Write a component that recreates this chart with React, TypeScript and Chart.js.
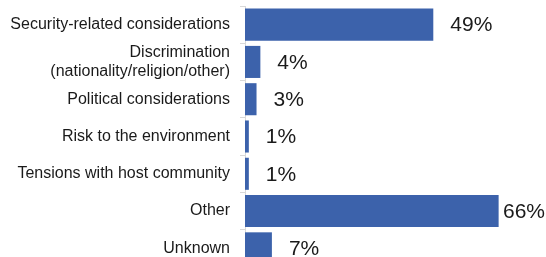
import React, { useEffect, useRef } from "react";
import { Chart, registerables } from "chart.js";

Chart.register(...registerables);

const categories: (string | string[])[] = [
  "Security-related considerations",
  ["Discrimination", "(nationality/religion/other)"],
  "Political considerations",
  "Risk to the environment",
  "Tensions with host community",
  "Other",
  "Unknown",
];
const values = [49, 4, 3, 1, 1, 66, 7];
const valueLabels = ["49%", "4%", "3%", "1%", "1%", "66%", "7%"];

const valueLabelPlugin = {
  id: "valueLabels",
  afterDatasetsDraw(chart: any) {
    const ctx = chart.ctx;
    const meta = chart.getDatasetMeta(0);
    ctx.save();
    ctx.font = "21px 'Liberation Sans', Arial, sans-serif";
    ctx.fillStyle = "#1a1a1a";
    ctx.textAlign = "left";
    ctx.textBaseline = "middle";
    meta.data.forEach((bar: any, i: number) => {
      const w = ctx.measureText(valueLabels[i]).width;
      const x = Math.min(bar.x + 17, chart.width - w - 1);
      ctx.fillText(valueLabels[i], x, bar.y + 1);
    });
    ctx.restore();
  },
};

export default function App() {
  const ref = useRef<HTMLCanvasElement>(null);
  useEffect(() => {
    if (!ref.current) return;
    const chart = new Chart(ref.current, {
      type: "bar",
      data: {
        labels: categories,
        datasets: [
          {
            data: values,
            backgroundColor: "#3C62AB",
            borderWidth: 0,
            categoryPercentage: 1,
            barPercentage: 0.86,
          },
        ],
      },
      options: {
        indexAxis: "y",
        animation: false,
        responsive: false,
        maintainAspectRatio: false,
        layout: { padding: { top: 6, bottom: 5, left: 0, right: 32 } },
        plugins: { legend: { display: false }, tooltip: { enabled: false } },
        scales: {
          x: { display: false, min: 0, max: 70 },
          y: {
            afterFit(scale: any) {
              scale.width = 245;
              scale.paddingTop = 0;
              scale.paddingBottom = 0;
            },
            border: { display: true, color: "#d9d9d9", width: 1 },
            grid: {
              display: true,
              drawOnChartArea: false,
              drawTicks: true,
              tickLength: 5,
              color: "#d9d9d9",
              offset: true,
            },
            ticks: {
              color: "#1a1a1a",
              padding: 10,
              font: { family: "'Liberation Sans', Arial, sans-serif", size: 16, lineHeight: 1.2 },
              autoSkip: false,
            },
          },
        },
      },
      plugins: [valueLabelPlugin],
    });
    return () => chart.destroy();
  }, []);
  return (
    <div style={{ position: "absolute", left: 0, top: 0, width: 546, height: 257, overflow: "hidden", background: "#fff" }}>
      <canvas ref={ref} width={546} height={272} style={{ display: "block" }} />
    </div>
  );
}
